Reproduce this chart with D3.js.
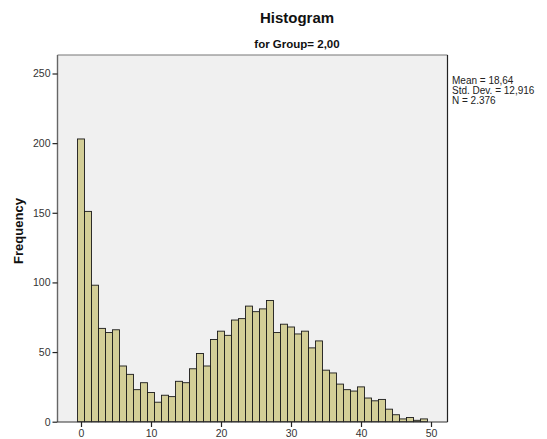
<!DOCTYPE html>
<html>
<head>
<meta charset="utf-8">
<script src="https://cdn.jsdelivr.net/npm/d3@7"></script>
<style>
  html, body { margin: 0; padding: 0; background: #fff; }
  svg { display: block; font-family: "Liberation Sans", Arial, sans-serif; }
</style>
</head>
<body>
<svg id="chart" width="547" height="439"></svg>
<script>
// ---- data ----
const binCenters = d3.range(0, 50); // 0..49, bin width 1
const counts = [
  203, 151, 98, 67, 64, 66, 40, 34, 23, 28,
  21, 14, 19, 18, 29, 28, 38, 49, 40, 59,
  65, 62, 73, 74, 83, 79, 81, 87, 64, 70,
  68, 63, 65, 53, 58, 37, 35, 27, 23, 22,
  25, 17, 15, 16, 9, 5, 2, 3, 1, 2
];
const xTicks = [0, 10, 20, 30, 40, 50];
const yTicks = [0, 50, 100, 150, 200, 250];
const titleText = "Histogram";
const subtitleText = "for Group= 2,00";
const yLabel = "Frequency";
const statsLines = ["Mean = 18,64", "Std. Dev. = 12,916", "N = 2.376"];

// ---- layout ----
const plot = { left: 57.5, top: 55, right: 447.5, bottom: 422 };
const svg = d3.select("#chart");

const x = d3.scaleLinear().domain([0, 50]).range([81, 431]);
const y = d3.scaleLinear().domain([0, 250]).range([421.7, 73.5]);

// plot background
svg.append("rect")
  .attr("x", plot.left).attr("y", plot.top)
  .attr("width", plot.right - plot.left).attr("height", plot.bottom - plot.top)
  .attr("fill", "#F0F0F0");

// bars
svg.append("g").selectAll("rect")
  .data(binCenters.map((c, i) => ({ c, v: counts[i] })))
  .join("rect")
  .attr("x", d => x(d.c - 0.5))
  .attr("width", d => x(d.c + 0.5) - x(d.c - 0.5))
  .attr("y", d => y(d.v))
  .attr("height", d => y(0) - y(d.v))
  .attr("fill", "#D3CE97")
  .attr("stroke", "#1a1a1a")
  .attr("stroke-width", 0.9);

// frame
svg.append("line").attr("x1", plot.left).attr("x2", plot.right).attr("y1", plot.top).attr("y2", plot.top)
  .attr("stroke", "#777").attr("stroke-width", 1.2);
svg.append("line").attr("x1", plot.right).attr("x2", plot.right).attr("y1", plot.top).attr("y2", plot.bottom)
  .attr("stroke", "#222").attr("stroke-width", 1.2);
svg.append("line").attr("x1", plot.left).attr("x2", plot.left).attr("y1", plot.top).attr("y2", plot.bottom)
  .attr("stroke", "#666").attr("stroke-width", 1.4);
svg.append("line").attr("x1", plot.left).attr("x2", plot.right).attr("y1", plot.bottom).attr("y2", plot.bottom)
  .attr("stroke", "#333").attr("stroke-width", 1.2);

// y axis
const yAxis = svg.append("g")
  .attr("transform", `translate(${plot.left},0)`)
  .call(d3.axisLeft(y).tickValues(yTicks).tickSize(5).tickPadding(2).tickFormat(d3.format("d")));
yAxis.select(".domain").remove();
yAxis.selectAll(".tick line").attr("stroke", "#222").attr("stroke-width", 1.2);
yAxis.selectAll(".tick text").attr("font-size", 10.5).attr("fill", "#333")
  .attr("font-family", "'Liberation Sans', Arial, sans-serif");

// x axis
const xAxis = svg.append("g")
  .attr("transform", `translate(0,${plot.bottom})`)
  .call(d3.axisBottom(x).tickValues(xTicks).tickSize(5).tickPadding(3).tickFormat(d3.format("d")));
xAxis.select(".domain").remove();
xAxis.selectAll(".tick line").attr("stroke", "#222").attr("stroke-width", 1.2);
xAxis.selectAll(".tick text").attr("font-size", 10.5).attr("fill", "#333")
  .attr("font-family", "'Liberation Sans', Arial, sans-serif");

// titles
svg.append("text").attr("x", 297).attr("y", 23).attr("text-anchor", "middle")
  .attr("font-size", 15).attr("font-weight", "bold").attr("fill", "#111").text(titleText);
svg.append("text").attr("x", 297).attr("y", 48).attr("text-anchor", "middle")
  .attr("font-size", 11.5).attr("font-weight", "bold").attr("fill", "#111").text(subtitleText);

// y label
svg.append("text").attr("transform", "translate(23,231) rotate(-90)").attr("text-anchor", "middle")
  .attr("font-size", 13).attr("font-weight", "bold").attr("fill", "#111").text(yLabel);

// stats
svg.append("g").selectAll("text").data(statsLines).join("text")
  .attr("x", 452).attr("y", (d, i) => 84 + i * 10)
  .attr("font-size", 10).attr("fill", "#222").text(d => d);
</script>
</body>
</html>
